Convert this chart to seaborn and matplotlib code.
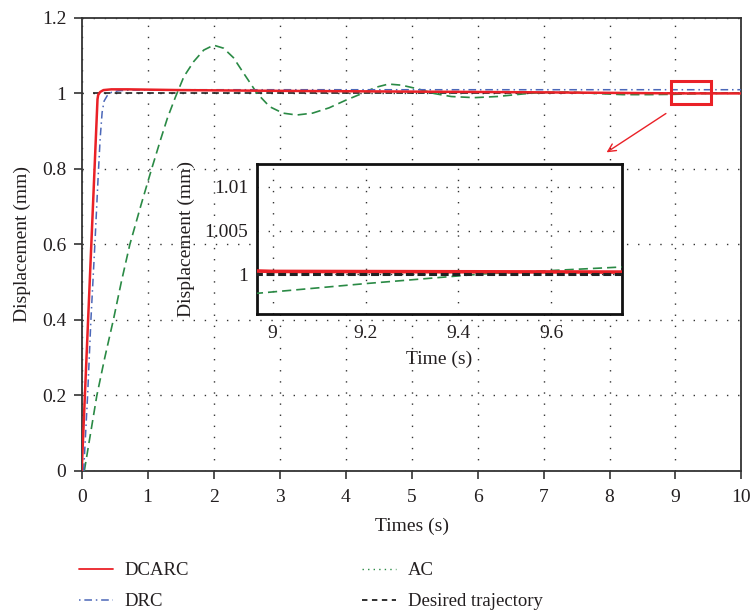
import numpy as np
import pandas as pd
import seaborn as sns
import matplotlib
matplotlib.use("Agg")
import matplotlib.pyplot as plt
from matplotlib.lines import Line2D
from matplotlib.patches import Rectangle

# ---------------- data ----------------
dcarc_t = [0, 0.24, 0.25, 0.28, 0.33, 0.45, 0.7, 1.5, 3, 5, 7, 8.5, 9, 10]
dcarc_y = [0, 0.985, 0.996, 1.004, 1.009, 1.011, 1.011, 1.009, 1.007, 1.005, 1.003, 1.001, 1.0003, 1.0002]

drc_t = [0.03, 0.09, 0.14, 0.2, 0.25, 0.28, 0.31, 0.34, 0.39, 0.45, 0.55, 0.7, 1.5, 10]
drc_y = [0, 0.2, 0.4, 0.6, 0.78, 0.88, 0.95, 0.98, 0.995, 1.003, 1.007, 1.009, 1.01, 1.01]

ac_t = [0.04, 0.23, 0.35, 0.48, 0.6, 0.73, 0.9, 1.06, 1.2, 1.3, 1.42, 1.55, 1.7, 1.85, 2.0,
        2.15, 2.3, 2.45, 2.66, 2.85, 3.05, 3.26, 3.5, 3.75, 4.0, 4.25, 4.45, 4.65, 4.85, 5.1,
        5.34, 5.6, 5.95, 6.3, 6.7, 7.0, 7.4, 7.8, 8.2, 8.6, 8.97, 9.2, 9.45, 9.75, 10]
ac_y = [0, 0.2, 0.3, 0.4, 0.5, 0.6, 0.705, 0.8, 0.88, 0.935, 0.99, 1.045, 1.085, 1.115, 1.128,
        1.12, 1.095, 1.055, 1.0, 0.965, 0.948, 0.943, 0.948, 0.962, 0.982, 1.0, 1.016, 1.025, 1.022, 1.012,
        1.0, 0.992, 0.989, 0.992, 0.999, 1.003, 1.004, 1.0, 0.997, 0.997, 0.9978, 0.9989, 1.0, 1.0008, 1.0012]

desired_t = [0.17, 10]
desired_y = [1.0, 1.0]

x_ticks = [0, 1, 2, 3, 4, 5, 6, 7, 8, 9, 10]
y_ticks = [0, 0.2, 0.4, 0.6, 0.8, 1.0, 1.2]
y_ticklabels = ["0", "0.2", "0.4", "0.6", "0.8", "1", "1.2"]

in_x_ticks = [9, 9.2, 9.4, 9.6]
in_x_ticklabels = ["9", "9.2", "9.4", "9.6"]
in_y_ticks = [1.0, 1.005, 1.01]
in_y_ticklabels = ["1", "1.005", "1.01"]

labels = ["DCARC", "DRC", "AC", "Desired trajectory"]

# ---------------- style ----------------
sns.set_style("ticks")
plt.rcParams["font.family"] = ["Liberation Serif", "DejaVu Serif"]
plt.rcParams["text.color"] = "#231f20"
plt.rcParams["axes.labelcolor"] = "#231f20"
plt.rcParams["xtick.color"] = "#231f20"
plt.rcParams["ytick.color"] = "#231f20"

RED = "#ea2127"
BLUE = "#4b67b8"
GREEN = "#2a8a45"
BLACK = "#222222"
GRID = dict(linestyle=(0, (1, 7)), color="#333333", linewidth=1.0)

fig = plt.figure(figsize=(7.52, 6.12), dpi=100)
ax = fig.add_axes([0.1086, 0.2304, 0.8774, 0.7402])

sns.lineplot(x=desired_t, y=desired_y, ax=ax, color=BLACK, lw=1.2,
             linestyle=(0, (4, 2.5)), estimator=None, sort=False, zorder=2)
sns.lineplot(x=ac_t, y=ac_y, ax=ax, color=GREEN, lw=1.2,
             linestyle=(0, (5.5, 3)), estimator=None, sort=False, zorder=3)
sns.lineplot(x=drc_t, y=drc_y, ax=ax, color=BLUE, lw=1.1,
             linestyle=(0, (5, 2.5, 1, 2.5)), estimator=None, sort=False, zorder=4)
sns.lineplot(x=dcarc_t, y=dcarc_y, ax=ax, color=RED, lw=1.8,
             estimator=None, sort=False, zorder=5)

ax.set_xlim(0, 10)
ax.set_ylim(0, 1.2)
ax.set_xticks(x_ticks)
ax.set_yticks(y_ticks)
ax.set_yticklabels(y_ticklabels)
ax.tick_params(direction="out", length=6, width=1.2, labelsize=14, pad=5,
               color="#333333")
ax.tick_params(axis="x", pad=7)
ax.grid(True, **GRID)
for s in ax.spines.values():
    s.set_visible(True)
    s.set_linewidth(1.3)
    s.set_color("#333333")
ax.set_xlabel("Times (s)", fontsize=14, labelpad=8.5)
ax.set_ylabel("Displacement (mm)", fontsize=14, labelpad=8)

# annotation box and arrow
ax.add_patch(Rectangle((8.935, 0.972), 0.608, 0.061, fill=False, ec=RED, lw=2.2, zorder=6))
ax.annotate("", xy=(7.92, 0.84), xytext=(8.89, 0.951),
            arrowprops=dict(arrowstyle="->", color=RED, lw=1.0, mutation_scale=14))

# ---------------- inset ----------------
axi = fig.add_axes([0.3414, 0.4864, 0.4861, 0.2456])
axi.set_facecolor("white")
sns.lineplot(x=ac_t, y=ac_y, ax=axi, color=GREEN, lw=1.2,
             linestyle=(0, (5.5, 3)), estimator=None, sort=False, zorder=3)
sns.lineplot(x=dcarc_t, y=dcarc_y, ax=axi, color=RED, lw=2.6,
             estimator=None, sort=False, zorder=4)
sns.lineplot(x=desired_t, y=desired_y, ax=axi, color=BLACK, lw=2.2,
             linestyle=(0, (2.6, 1.2)), estimator=None, sort=False, zorder=5)
axi.set_xlim(8.9655, 9.7535)
axi.set_ylim(0.99537, 1.01264)
axi.set_xticks(in_x_ticks)
axi.set_xticklabels(in_x_ticklabels)
axi.set_yticks(in_y_ticks)
axi.set_yticklabels(in_y_ticklabels)
axi.tick_params(length=0, labelsize=14, pad=6)
axi.tick_params(axis="x", pad=8)
axi.grid(True, **GRID)
for s in axi.spines.values():
    s.set_visible(True)
    s.set_linewidth(2.0)
    s.set_color("#111111")
axi.set_xlabel("Time (s)", fontsize=14, labelpad=6)
axi.set_ylabel("Displacement (mm)", fontsize=14, labelpad=7)

# ---------------- legend ----------------
handles = [
    Line2D([], [], color=RED, lw=1.3),
    Line2D([], [], color=BLUE, lw=1.1, linestyle=(0, (1, 2.5, 5, 2.5))),
    Line2D([], [], color=GREEN, lw=1.0, linestyle=(0, (1, 3))),
    Line2D([], [], color=BLACK, lw=1.3, linestyle=(0, (3, 2.5))),
]
fig.legend(handles, labels, ncol=2, loc="upper left",
           bbox_to_anchor=(79 / 752, 1 - 562 / 612), frameon=False,
           fontsize=13.5, handlelength=1.8, handletextpad=0.65,
           columnspacing=9.2, labelspacing=0.74, borderpad=0, borderaxespad=0)

fig.savefig("out.png", dpi=100)
